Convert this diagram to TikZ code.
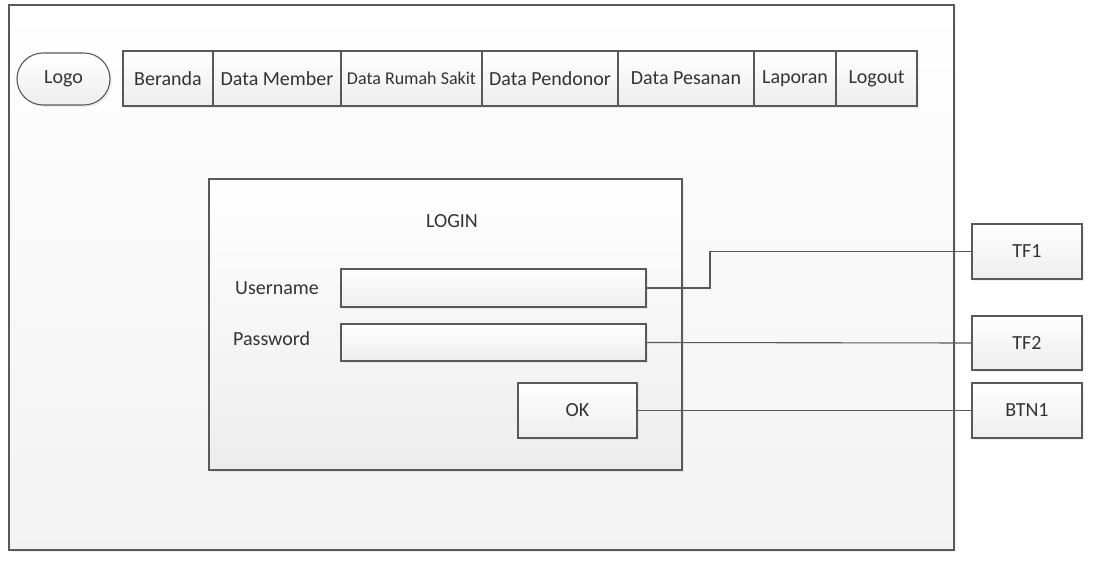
\documentclass[tikz,border=0pt]{standalone}
\usepackage{fontspec}
\setmainfont{Carlito}
\usetikzlibrary{positioning,shapes.misc,shadows}

\begin{document}
\begin{tikzpicture}[x=1pt,y=-1pt,
        box/.style={draw=black!65, line width=1.1pt, top color=white, bottom color=black!7,
            drop shadow={opacity=0.12, shadow xshift=2pt, shadow yshift=-2pt},
            inner sep=0pt, outer sep=0pt, text=black!80, font=\fontsize{20}{24}\selectfont},
        menu/.style={box, minimum height=55pt},
        field/.style={box, minimum height=37pt},
        txt/.style={text=black!80, inner sep=0pt, font=\fontsize{20}{24}\selectfont},
        wire/.style={draw=black!65, line width=1.1pt}]

                \useasboundingbox (0,0) rectangle (1095,561);

                % page frame and login panel
                \node (frame) at (481.5,277.5) [box, bottom color=black!5, minimum width=945pt, minimum height=545pt] {};
                \node (panel) at (445.5,324.5) [box, minimum width=473pt, minimum height=291pt] {};

                % header
                \node (logo) at (63.5,79) [box, rounded rectangle, minimum width=93pt, minimum height=52pt] {Logo};
                \node (beranda) at (168,78.5) [menu, minimum width=90pt] {Beranda};
                \node (member) [menu, minimum width=128pt, right=0pt of beranda] {Data Member};
                \node (rs) [menu, minimum width=141pt, right=0pt of member, font=\fontsize{18}{22}\selectfont] {Data Rumah Sakit};
                \node (pendonor) [menu, minimum width=136pt, right=0pt of rs] {Data Pendonor};
                \node (pesanan) [menu, minimum width=136pt, right=0pt of pendonor] {Data Pesanan};
                \node (laporan) [menu, minimum width=82pt, right=0pt of pesanan] {Laporan};
                \node (logout) [menu, minimum width=81pt, right=0pt of laporan] {Logout};

                % login form
                \node (title) at (452,221) [txt] {LOGIN};
                \node (userlbl) at (235,288) [txt, anchor=west] {Username};
                \node (passlbl) at (233,339) [txt, anchor=west] {Password};
                \node (user) at (493.5,288) [field, minimum width=305pt, minimum height=38pt] {};
                \node (pass) at (493.5,342.5) [field, minimum width=305pt] {};
                \node (ok) at (577.5,410.5) [menu, minimum width=119pt] {OK};

                % component ids
                \node (tf1) at (1027,251.5) [menu, minimum width=110pt] {TF1};
                \node (tf2) at (1027,343) [menu, minimum width=110pt, minimum height=54pt] {TF2};
                \node (btn1) at (1027,410.5) [menu, minimum width=110pt] {BTN1};

                \draw[wire] (user.east) -- ++(64,0) |- (tf1.west);
                \draw[wire] (pass.east) -- (tf2.west);
                \draw[wire] (ok.east) -- (btn1.west);
            \end{tikzpicture}
\end{document}
